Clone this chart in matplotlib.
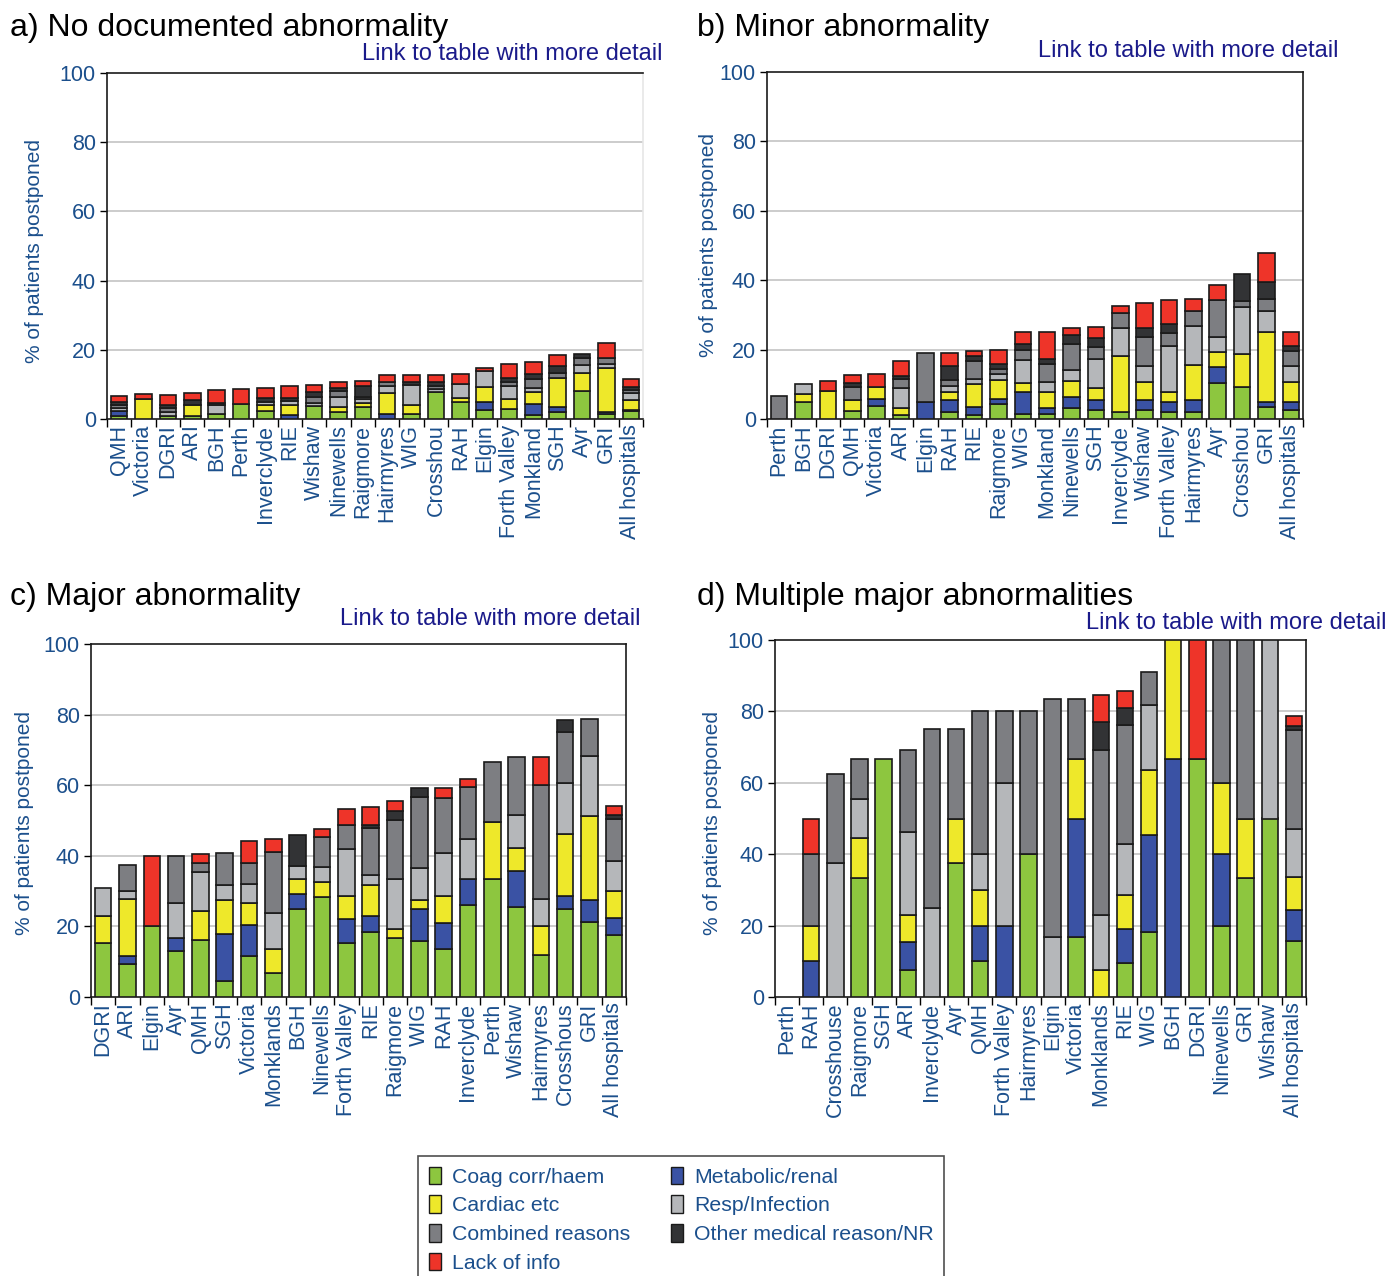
import numpy as np
import matplotlib
matplotlib.use("Agg")
import matplotlib.pyplot as plt
from matplotlib.patches import Patch

plt.rcParams['font.family'] = ['Liberation Sans', 'DejaVu Sans']

series_names = ["Coag corr/haem", "Metabolic/renal", "Cardiac etc", "Resp/Infection",
                "Combined reasons", "Other medical reason/NR", "Lack of info"]
series_colors = ["#8dc63f", "#3a52a4", "#eee82a", "#b5b7ba", "#7d7e82", "#323335", "#ee3429"]

# ---- Panel a: No documented abnormality ----
a_cats = ["QMH", "Victoria", "DGRI", "ARI", "BGH", "Perth", "Inverclyde", "RIE", "Wishaw",
          "Ninewells", "Raigmore", "Hairmyres", "WIG", "Crosshou", "RAH", "Elgin",
          "Forth Valley", "Monkland", "SGH", "Ayr", "GRI", "All hospitals"]
a_coag = [0.8, 0, 0.8, 0.8, 1.4, 4.3, 2.2, 0, 3.8, 1.9, 3.4, 0, 1.5, 7.8, 4.8, 2.7, 3.0, 1.1, 1.9, 8.2, 1.5, 2.3]
a_metab = [1.5, 0, 0, 0, 0, 0, 0, 1.1, 0, 0, 0, 1.5, 0, 0, 0, 2.1, 0, 3.2, 1.5, 0, 0.4, 0.4]
a_cardiac = [0, 5.8, 0, 3.3, 0, 0, 1.9, 3.0, 0, 1.5, 1.1, 6.1, 2.5, 0, 1.3, 4.4, 2.9, 3.4, 8.4, 5.0, 12.8, 2.7]
a_resp = [1.0, 0, 1.2, 0, 2.7, 0, 0.8, 1.0, 0.9, 2.9, 1.3, 1.9, 5.9, 0.9, 3.9, 4.7, 3.6, 1.3, 0, 2.5, 1.3, 2.1]
a_combined = [0.7, 0, 1.2, 0, 0, 0, 0, 0, 1.7, 1.9, 0.6, 1.1, 0, 0.9, 0, 0, 1.1, 2.7, 1.5, 1.9, 1.5, 0.8]
a_other = [1.0, 0, 0.9, 1.4, 0.4, 0, 1.2, 1.0, 1.4, 0.9, 3.0, 0, 0.8, 1.0, 0, 0, 1.3, 1.3, 1.9, 1.3, 0, 0.9]
a_lack = [1.7, 1.3, 2.9, 2.0, 3.9, 4.5, 2.9, 3.5, 2.0, 1.7, 1.6, 2.2, 2.1, 2.1, 3.1, 0.9, 4.0, 3.6, 3.2, 0, 4.6, 2.5]

# ---- Panel b: Minor abnormality ----
b_cats = ["Perth", "BGH", "DGRI", "QMH", "Victoria", "ARI", "Elgin", "RAH", "RIE", "Raigmore",
          "WIG", "Monkland", "Ninewells", "SGH", "Inverclyde", "Wishaw", "Forth Valley",
          "Hairmyres", "Ayr", "Crosshou", "GRI", "All hospitals"]
b_coag = [0, 4.8, 0, 2.3, 3.7, 1.2, 0, 1.9, 1.2, 4.3, 1.4, 1.4, 3.1, 2.7, 1.9, 2.7, 2.1, 1.9, 10.5, 9.3, 3.5, 2.7]
b_metab = [0, 0, 0, 0, 2.0, 0, 4.8, 3.7, 2.3, 1.4, 6.4, 1.9, 3.3, 2.9, 0, 2.9, 2.7, 3.7, 4.5, 0, 1.4, 2.1]
b_cardiac = [0, 2.3, 8.0, 3.3, 3.6, 2.1, 0, 2.1, 6.6, 5.6, 2.7, 4.6, 4.5, 3.3, 16.3, 5.2, 3.1, 9.9, 4.3, 9.3, 20.3, 6.0]
b_resp = [0, 2.9, 0, 0, 0, 5.6, 0, 1.9, 1.4, 1.7, 6.6, 2.9, 3.3, 8.5, 8.1, 4.6, 13.2, 11.2, 4.3, 13.6, 5.8, 4.5]
b_combined = [6.6, 0, 0, 3.7, 0, 2.7, 14.3, 1.7, 5.2, 1.4, 2.9, 5.0, 7.4, 3.3, 4.3, 8.1, 3.7, 4.3, 10.6, 1.9, 3.7, 4.3]
b_other = [0, 0, 0, 1.2, 0, 0.8, 0, 4.1, 1.4, 1.5, 1.7, 1.5, 2.5, 2.7, 0, 2.7, 2.5, 0, 0, 7.6, 4.8, 1.5]
b_lack = [0, 0, 3.0, 2.2, 3.8, 4.4, 0, 3.7, 1.6, 4.1, 3.3, 7.9, 2.1, 3.1, 2.1, 7.2, 7.0, 3.7, 4.3, 0, 8.3, 3.9]

# ---- Panel c: Major abnormality ----
c_cats = ["DGRI", "ARI", "Elgin", "Ayr", "QMH", "SGH", "Victoria", "Monklands", "BGH", "Ninewells",
          "Forth Valley", "RIE", "Raigmore", "WIG", "RAH", "Inverclyde", "Perth", "Wishaw",
          "Hairmyres", "Crosshous", "GRI", "All hospitals"]
c_coag = [15.4, 9.3, 20.1, 13.1, 16.2, 4.6, 11.5, 6.8, 24.8, 28.3, 15.3, 18.3, 16.6, 15.8, 13.6, 26.1, 33.4, 25.6, 11.9, 24.8, 21.2, 17.6]
c_metab = [0, 2.3, 0, 3.6, 0, 13.2, 8.9, 0, 4.3, 0, 6.9, 4.7, 0, 9.1, 7.4, 7.3, 0, 10.0, 0, 3.8, 6.3, 4.7]
c_cardiac = [7.6, 16.2, 0, 0, 8.3, 9.6, 6.1, 6.9, 4.2, 4.4, 6.4, 8.6, 2.6, 2.5, 7.6, 0, 16.3, 6.5, 8.2, 17.7, 23.7, 7.7]
c_resp = [7.9, 2.3, 0, 9.9, 10.8, 4.2, 5.6, 10.2, 3.9, 4.1, 13.3, 3.1, 14.2, 9.1, 12.2, 11.5, 0, 9.5, 7.8, 14.2, 17.1, 8.6]
c_combined = [0, 7.3, 0, 13.4, 2.6, 9.2, 6.0, 17.2, 0, 8.6, 6.9, 13.2, 16.8, 20.2, 15.5, 14.6, 17.0, 16.4, 32.2, 14.6, 10.4, 11.8]
c_other = [0, 0, 0, 0, 0, 0, 0, 0, 8.7, 0, 0, 0.9, 2.6, 2.6, 0, 0, 0, 0, 0, 3.5, 0, 1.1]
c_lack = [0, 0, 19.9, 0, 2.6, 0, 6.2, 3.6, 0, 2.3, 4.5, 4.9, 2.6, 0, 3.0, 2.3, 0, 0, 7.9, 0, 0, 2.6]

# ---- Panel d: Multiple major abnormalities ----
d_cats = ["Perth", "RAH", "Crosshouse", "Raigmore", "SGH", "ARI", "Inverclyde", "Ayr", "QMH",
          "Forth Valley", "Hairmyres", "Elgin", "Victoria", "Monklands", "RIE", "WIG", "BGH",
          "DGRI", "Ninewells", "GRI", "Wishaw", "All hospitals"]
d_coag = [0, 0, 0, 33.3, 66.7, 7.7, 0, 37.5, 10, 0, 40, 0, 16.7, 0, 9.5, 18.2, 0, 66.7, 20, 33.3, 50, 15.7]
d_metab = [0, 10, 0, 0, 0, 7.7, 0, 0, 10, 20, 0, 0, 33.3, 0, 9.5, 27.3, 66.7, 0, 20, 0, 0, 8.6]
d_cardiac = [0, 10, 0, 11.1, 0, 7.7, 0, 12.5, 10, 0, 0, 0, 16.7, 7.7, 9.5, 18.2, 33.3, 0, 20, 16.7, 0, 9.2]
d_resp = [0, 0, 37.5, 11.1, 0, 23.1, 25, 0, 10, 40, 0, 16.7, 0, 15.4, 14.3, 18.2, 0, 0, 0, 0, 50, 13.5]
d_combined = [0, 20, 25, 11.1, 0, 23.1, 50, 25, 40, 20, 40, 66.7, 16.7, 46.2, 33.3, 9.1, 0, 0, 40, 50, 0, 27.7]
d_other = [0, 0, 0, 0, 0, 0, 0, 0, 0, 0, 0, 0, 0, 7.7, 4.8, 0, 0, 0, 0, 0, 0, 1.3]
d_lack = [0, 10, 0, 0, 0, 0, 0, 0, 0, 0, 0, 0, 0, 7.7, 4.8, 0, 0, 33.3, 0, 0, 0, 2.8]

panels = [
    ("a) No documented abnormality", a_cats,
     [a_coag, a_metab, a_cardiac, a_resp, a_combined, a_other, a_lack]),
    ("b) Minor abnormality", b_cats,
     [b_coag, b_metab, b_cardiac, b_resp, b_combined, b_other, b_lack]),
    ("c) Major abnormality", c_cats,
     [c_coag, c_metab, c_cardiac, c_resp, c_combined, c_other, c_lack]),
    ("d) Multiple major abnormalities", d_cats,
     [d_coag, d_metab, d_cardiac, d_resp, d_combined, d_other, d_lack]),
]

W, H = 1391, 1276
fig = plt.figure(figsize=(W / 100, H / 100), dpi=100)

def fx(px):
    return px / W

def fy(py):
    return 1 - py / H

# axes rectangles in pixel coords: left, top, right, bottom
rects = [(107, 73, 643, 419), (767, 72, 1303, 419), (91, 644, 626, 997), (775, 640, 1306, 997)]
titles_pos = [(10, 28), (697, 28), (10, 597), (697, 597)]
link_pos = [(663, 54), (1338, 51), (641, 619), (1387, 623)]
ylab_pos = [(35, 251), (708, 245), (25, 823), (712, 823)]

tick_blue = "#1b4f8c"
link_col = "#1a1a8a"

for k, (title, cats, vals) in enumerate(panels):
    l, t, r, b = rects[k]
    ax = fig.add_axes([fx(l), fy(b), fx(r) - fx(l), fy(t) - fy(b)])
    x = np.arange(len(cats))
    bottom = np.zeros(len(cats))
    for s, v in enumerate(vals):
        v = np.asarray(v, dtype=float)
        m = v > 0
        ax.bar(x[m], v[m], bottom=bottom[m], width=0.68, color=series_colors[s],
               edgecolor="#1a1a1a", linewidth=1.2, zorder=3)
        bottom = bottom + v
    ax.set_xlim(-0.5, len(cats) - 0.5)
    ax.set_ylim(0, 100)
    ax.set_yticks([0, 20, 40, 60, 80, 100])
    ax.set_yticklabels(["0", "20", "40", "60", "80", "100"], fontsize=15.5, color=tick_blue)
    ax.set_xticks(np.arange(len(cats) + 1) - 0.5)
    ax.set_xticklabels([])
    ax.set_xticks(x, minor=True)
    ax.set_xticklabels(cats, minor=True, rotation=90, fontsize=15.5, color=tick_blue)
    ax.tick_params(axis="x", which="major", length=6, width=1, direction="out")
    ax.tick_params(axis="x", which="minor", length=0, pad=4)
    ax.tick_params(axis="y", length=5, width=1, direction="out", pad=3)
    for yv in [20, 40, 60, 80]:
        ax.axhline(yv, color="#c4c4c4", linewidth=1.2, zorder=1)
    for sp in ax.spines.values():
        sp.set_color("#1a1a1a")
        sp.set_linewidth(1.2)
    if k == 0:
        ax.spines["right"].set_color("#e6e6e6")
    fig.text(fx(titles_pos[k][0]), fy(titles_pos[k][1]), title, fontsize=23,
             ha="left", va="center", color="black")
    fig.text(fx(link_pos[k][0]), fy(link_pos[k][1]), "Link to table with more detail",
             fontsize=17, ha="right", va="center", color=link_col)
    fig.text(fx(ylab_pos[k][0]), fy(ylab_pos[k][1]), "% of patients postponed",
             fontsize=15, rotation=90, ha="center", va="center", color=tick_blue)

handles = [Patch(facecolor=series_colors[i], edgecolor="#1a1a1a", linewidth=1.0)
           for i in [0, 2, 4, 6, 1, 3, 5]]
labels = [series_names[i] for i in [0, 2, 4, 6, 1, 3, 5]]
leg = fig.legend(handles, labels, loc="upper left", bbox_to_anchor=(fx(418), fy(1156)),
                 ncol=2, fontsize=15.3, frameon=True, fancybox=False, edgecolor="#222222",
                 handlelength=0.6, handleheight=0.9, handletextpad=0.5,
                 columnspacing=1.9, labelspacing=0.4, borderpad=0.5, borderaxespad=0)
leg.get_frame().set_linewidth(1.2)
for txt in leg.get_texts():
    txt.set_color(tick_blue)

fig.savefig("out.png", dpi=100)
